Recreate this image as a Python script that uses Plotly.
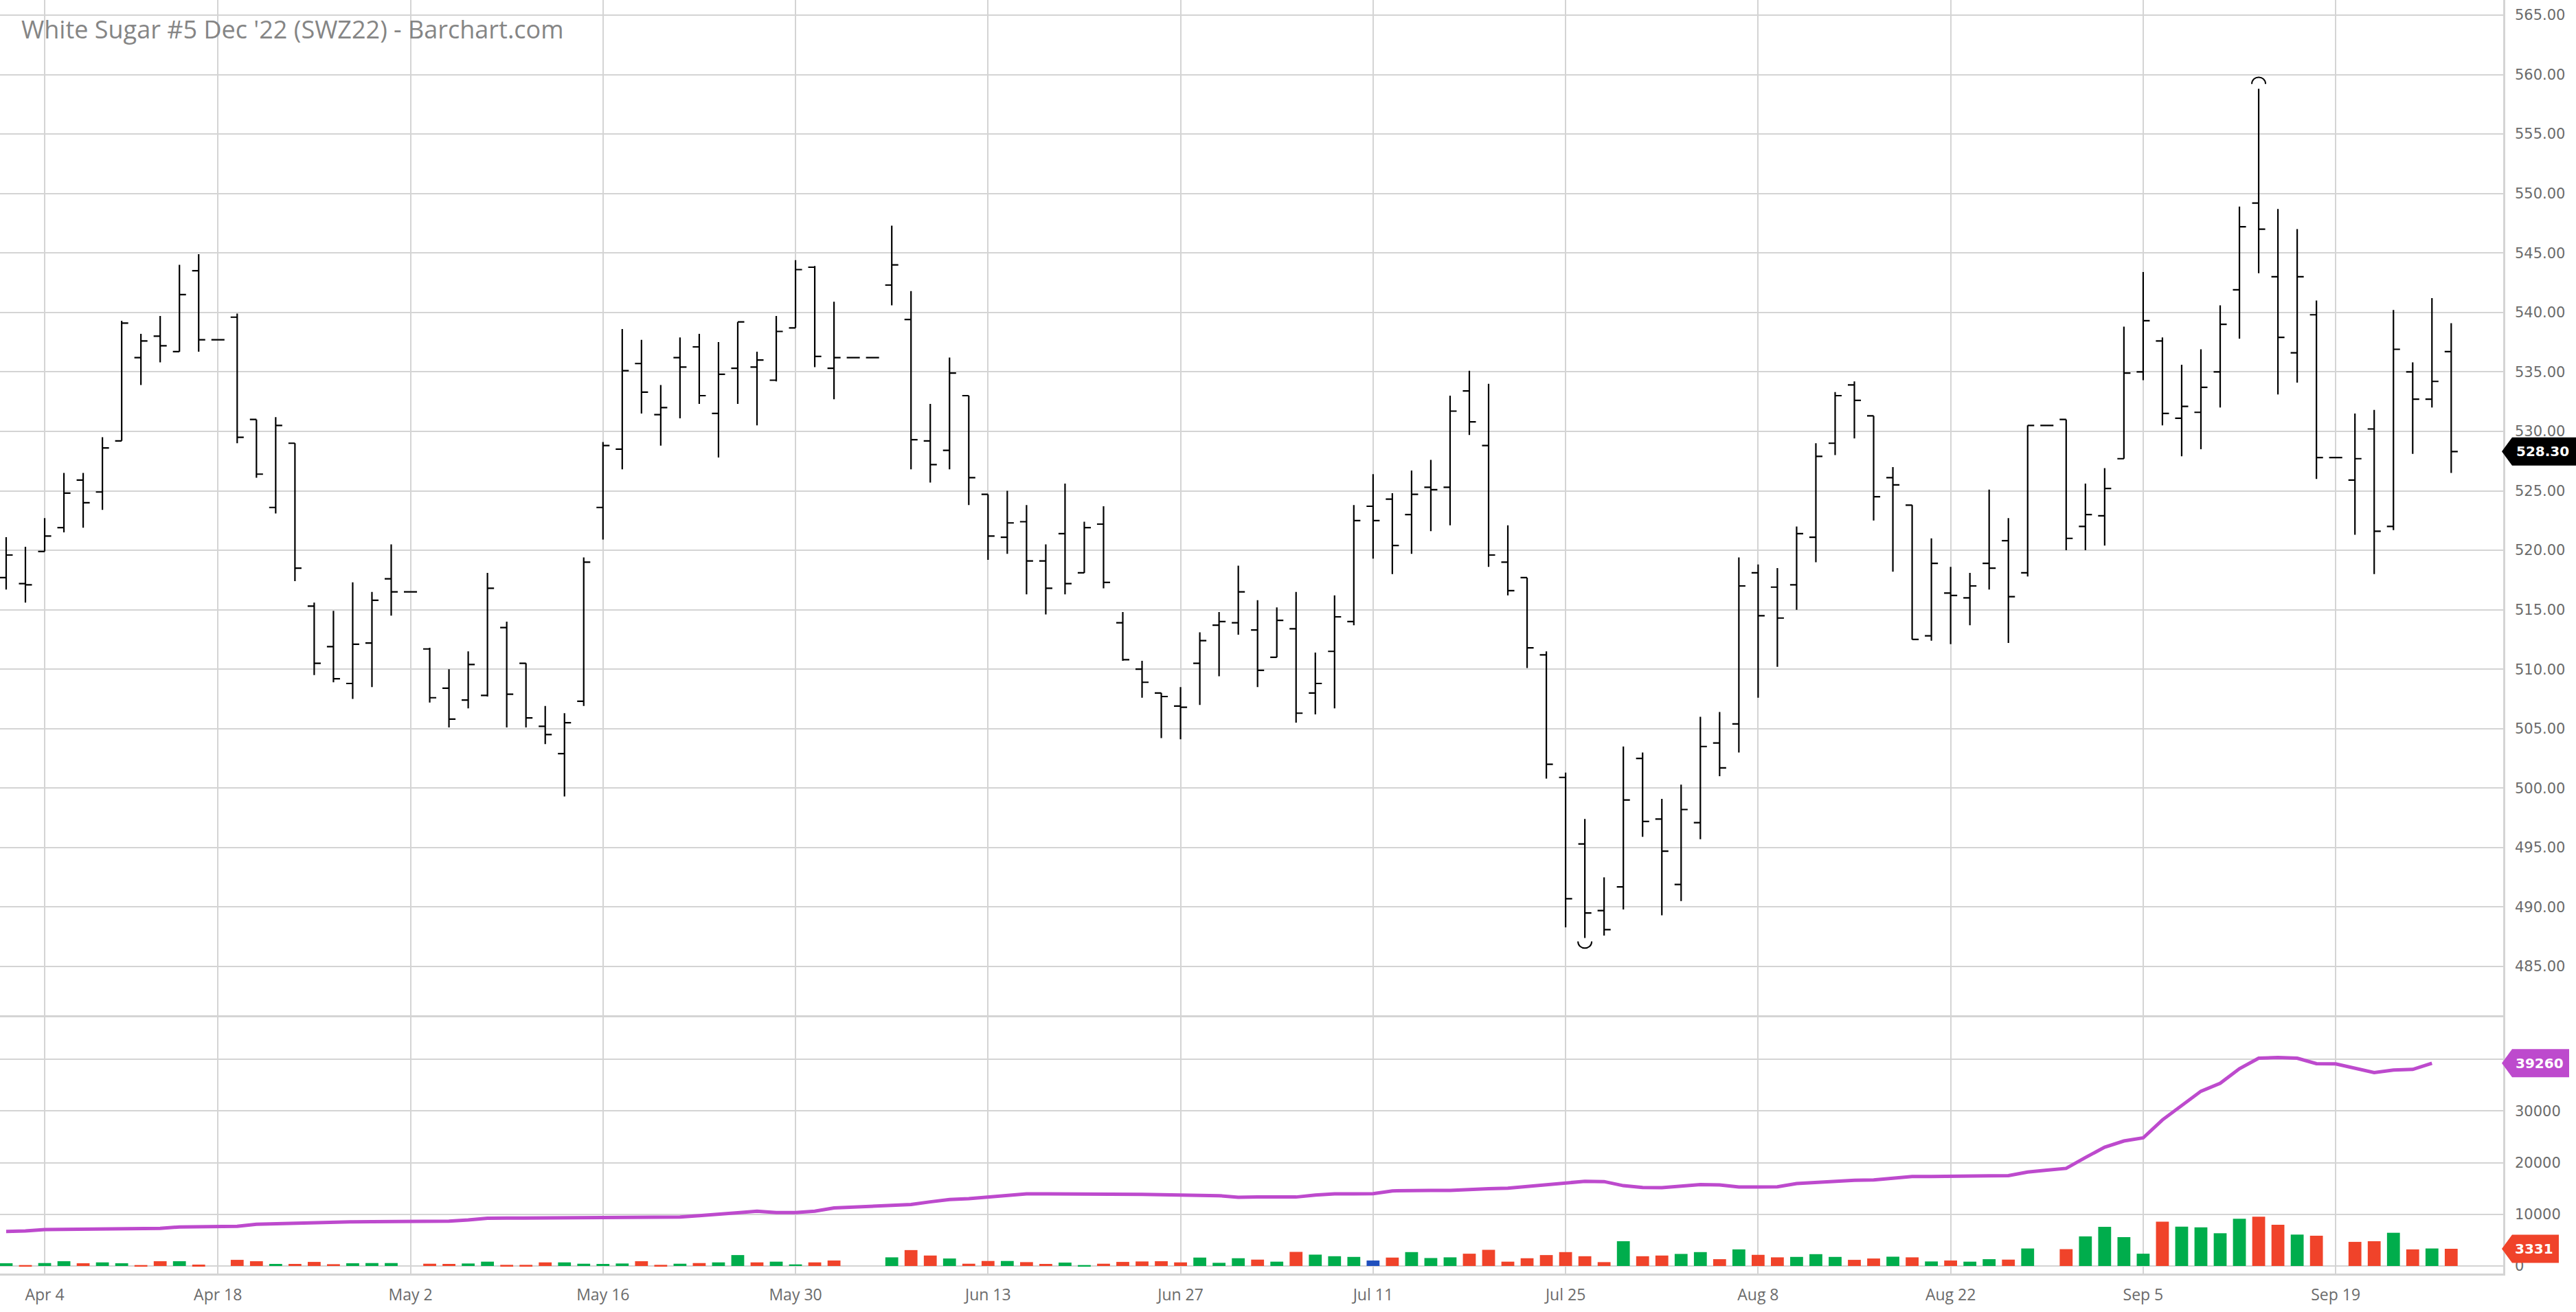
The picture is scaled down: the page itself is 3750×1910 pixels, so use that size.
import pandas as pd
import plotly.graph_objects as go

# ---------------- data ----------------
SKIPPED_DAYS = ["2022-04-15"]  # Good Friday, no session at all
DATES = [d.strftime("%Y-%m-%d") for d in pd.bdate_range("2022-03-31", "2022-09-27")]
DATES = [d for d in DATES if d not in SKIPPED_DAYS]

OPEN = [517.7, 517.2, 519.9, 521.9, 525.9, 524.9, 529.2, 536.2, 538.0, 536.7,
        543.5, 537.7, 539.6, 531.0, 523.6, 529.0, 515.3, 511.9, 508.8, 512.2,
        517.6, 516.5, 511.7, 508.4, 507.4, 507.8, 513.5, 510.5, 505.2, 502.9,
        507.3, 523.6, 528.5, 535.7, 531.4, 536.2, 537.1, 531.5, 535.3, 535.4,
        534.3, 538.7, 543.8, 535.3, 536.2, 536.2, 542.3, 539.4, 529.2, 528.4,
        533.0, 524.7, 521.1, 522.4, 519.1, 521.4, 518.1, 522.2, 513.9, 510.0,
        508.0, 506.9, 510.5, 513.7, 513.9, 513.3, 511.0, 513.4, 508.0, 511.5,
        514.0, 523.7, 524.3, 523.0, 525.3, 525.3, 533.4, 528.8, 519.0, 517.7,
        511.2, 500.9, 495.3, 489.7, 491.7, 502.5, 497.4, 491.9, 497.1, 503.8,
        505.4, 518.1, 516.9, 517.1, 521.1, 529.0, 533.9, 531.3, 526.1, 523.8,
        512.8, 516.4, 516.0, 518.9, 520.8, 518.1, 530.5, 531.0, 522.0, 522.9,
        527.7, 535.0, 537.6, 531.1, 531.6, 535.0, 541.9, 549.2, 543.0, 536.6,
        539.8, 527.8, 525.9, 530.2, 522.0, 535.0, 532.7, 536.7]

HIGH = [521.1, 520.3, 522.7, 526.5, 526.5, 529.5, 539.3, 538.2, 539.7, 544.0,
        544.9, 537.7, 539.9, 531.0, 531.2, 529.0, 515.6, 514.9, 517.3, 516.5,
        520.5, 516.5, 511.8, 510.0, 511.5, 518.1, 514.0, 510.5, 506.9, 506.3,
        519.4, 529.1, 538.6, 537.7, 533.9, 537.9, 538.2, 537.5, 539.2, 536.7,
        539.7, 544.4, 543.9, 540.9, 536.2, 536.2, 547.3, 541.8, 532.3, 536.2,
        533.0, 524.7, 525.0, 523.8, 520.5, 525.6, 522.4, 523.7, 514.8, 510.7,
        508.0, 508.5, 513.1, 514.8, 518.7, 515.8, 515.2, 516.5, 511.4, 516.2,
        523.8, 526.4, 524.8, 526.7, 527.6, 533.0, 535.1, 534.0, 522.1, 517.7,
        511.5, 501.3, 497.4, 492.5, 503.5, 503.0, 499.1, 500.3, 506.0, 506.4,
        519.4, 518.8, 518.5, 522.0, 529.0, 533.3, 534.2, 531.3, 527.0, 523.8,
        521.0, 518.6, 518.1, 525.1, 522.7, 530.5, 530.5, 531.0, 525.6, 526.9,
        538.8, 543.4, 537.9, 535.6, 536.9, 540.6, 548.9, 558.8, 548.7, 547.0,
        541.0, 527.8, 531.5, 531.8, 540.2, 535.8, 541.2, 539.1]

LOW = [516.7, 515.6, 519.9, 521.5, 521.9, 523.4, 529.2, 533.9, 535.8, 536.7,
       536.7, 537.7, 529.0, 526.1, 523.1, 517.4, 509.5, 508.9, 507.5, 508.5,
       514.5, 516.5, 507.2, 505.1, 506.7, 507.7, 505.1, 505.1, 503.7, 499.3,
       506.9, 520.9, 526.8, 531.5, 528.8, 531.1, 532.3, 527.8, 532.3, 530.5,
       534.2, 538.7, 535.4, 532.7, 536.2, 536.2, 540.6, 526.8, 525.7, 526.8,
       523.8, 519.2, 519.7, 516.3, 514.6, 516.3, 518.1, 516.8, 510.7, 507.6,
       504.2, 504.1, 507.0, 509.4, 512.9, 508.5, 511.0, 505.5, 506.2, 506.7,
       513.7, 519.3, 518.0, 519.7, 521.6, 522.1, 529.7, 518.6, 516.2, 510.1,
       500.8, 488.3, 487.4, 487.6, 489.8, 495.9, 489.3, 490.5, 495.7, 501.0,
       503.0, 507.6, 510.2, 515.0, 519.0, 528.0, 529.4, 522.5, 518.2, 512.5,
       512.4, 512.1, 513.7, 516.7, 512.2, 517.8, 530.5, 520.0, 520.0, 520.4,
       527.7, 534.3, 530.5, 527.9, 528.5, 532.0, 537.8, 543.3, 533.1, 534.1,
       526.0, 527.8, 521.3, 518.0, 521.7, 528.1, 532.0, 526.5]

CLOSE = [519.6, 517.1, 521.2, 524.8, 524.0, 528.6, 539.1, 537.6, 537.2, 541.5,
         537.7, 537.7, 529.5, 526.4, 530.5, 518.5, 510.5, 509.2, 512.1, 515.8,
         516.5, 516.5, 507.6, 505.8, 510.4, 516.8, 507.9, 505.9, 504.5, 505.5,
         519.0, 528.8, 535.1, 533.3, 532.0, 535.4, 533.0, 534.8, 539.2, 536.0,
         538.4, 543.6, 536.3, 536.2, 536.2, 536.2, 544.0, 529.3, 527.2, 534.9,
         526.1, 521.2, 522.3, 519.1, 516.8, 517.2, 521.9, 517.3, 510.8, 508.9,
         507.7, 506.8, 512.4, 514.0, 516.5, 509.9, 514.1, 506.3, 508.8, 514.4,
         522.5, 522.5, 520.4, 524.7, 525.1, 531.7, 530.8, 519.6, 516.6, 511.8,
         502.0, 490.7, 489.5, 488.1, 499.0, 497.2, 494.7, 498.2, 503.5, 501.7,
         517.0, 514.5, 514.3, 521.4, 527.9, 533.0, 532.6, 524.5, 525.5, 512.5,
         518.9, 516.2, 517.0, 518.5, 516.1, 530.5, 530.5, 521.0, 523.0, 525.2,
         534.9, 539.3, 531.5, 532.1, 533.7, 539.0, 547.2, 547.0, 537.9, 543.0,
         527.8, 527.8, 527.7, 521.6, 536.9, 532.7, 534.2, 528.3]

VOLUME = [530, 180, 570, 925, 530, 700, 530, 180, 925, 925,
          265, None, 1190, 925, 400, 400, 790, 350, 530, 570,
          570, None, 440, 400, 485, 840, 220, 220, 700, 700,
          440, 400, 485, 925, 220, 440, 570, 700, 2115, 700,
          840, 310, 700, 1060, None, None, 1675, 3080, 2025, 1450,
          440, 970, 970, 750, 400, 660, 180, 440, 790, 880,
          925, 700, 1630, 615, 1500, 1235, 840, 2730, 2200, 1890,
          1760, 1060, 1630, 2690, 1540, 1675, 2380, 3130, 840, 1500,
          2115, 2690, 1890, 750, 4800, 1890, 2025, 2335, 2690, 1320,
          3215, 2160, 1675, 1760, 2290, 1760, 1190, 1450, 1800, 1675,
          880, 1060, 840, 1320, 1235, 3390, None, 3260, 5730, 7580,
          5590, 2380, 8590, 7620, 7490, 6340, 9160, 9560, 7970, 6080,
          5860, None, 4670, 4800, 6430, 3215, 3390, 3331]

OPEN_INTEREST = [6700, 6780, 7050, 7100, 7140, 7180, 7220, 7250, 7270, 7560,
                 7600, 7600, 7670, 8080, 8200, 8330, 8360, 8410, 8550, 8570,
                 8590, 8590, 8620, 8680, 8900, 9250, 9270, 9300, 9270, 9250,
                 9280, 9340, 9360, 9380, 9400, 9470, 9740, 10090, 10300, 10600,
                 10350, 10350, 10600, 11230, 11410, 11560, 11720, 11900, 12420, 12860,
                 13040, 13300, 13660, 13960, 13960, 13960, 13960, 13960, 13920, 13870,
                 13790, 13790, 13650, 13610, 13300, 13350, 13350, 13350, 13740, 13960,
                 13960, 13990, 14540, 14630, 14630, 14630, 14850, 14960, 15070, 15420,
                 15730, 16030, 16390, 16340, 15550, 15200, 15150, 15460, 15770, 15680,
                 15290, 15310, 15330, 15950, 16220, 16480, 16600, 16650, 17000, 17310,
                 17310, 17310, 17380, 17440, 17490, 18190, 18550, 18900, 21000, 23000,
                 24200, 24800, 28280, 31060, 33830, 35370, 38200, 40220, 40350, 40220,
                 39160, 39120, 38330, 37440, 37930, 38060, 39260, None]

TICK_DATES = ["2022-04-04", "2022-04-18", "2022-05-02", "2022-05-16", "2022-05-30",
              "2022-06-13", "2022-06-27", "2022-07-11", "2022-07-25", "2022-08-08",
              "2022-08-22", "2022-09-05", "2022-09-19"]
TICK_LABELS = ["Apr 4", "Apr 18", "May 2", "May 16", "May 30", "Jun 13", "Jun 27",
               "Jul 11", "Jul 25", "Aug 8", "Aug 22", "Sep 5", "Sep 19"]
PRICE_TICKS = [485, 490, 495, 500, 505, 510, 515, 520, 525, 530, 535, 540,
               545, 550, 555, 560, 565]
VOLUME_TICKS = [0, 10000, 20000, 30000, 40000]
VOLUME_TICK_TEXT = ["0", "10000", "20000", "30000", ""]

TITLE = "White Sugar #5 Dec '22 (SWZ22) - Barchart.com"

n = len(DATES)
assert all(len(a) == n for a in (OPEN, HIGH, LOW, CLOSE, VOLUME, OPEN_INTEREST)), n

# ---------------- style ----------------
GREEN = "#00ad4c"
RED = "#f0432a"
BLUE = "#1f4fbd"
PURPLE = "#bd4acd"
GRID = "#d4d4d4"
AXIS_TXT = "#6b6b6b"

PRICE_RANGE = [480.9, 566.27]
VOL_RANGE = [-1460, 48140]
X_RANGE = [-0.32, 129.7]
PRICE_DOMAIN = [0.2028, 1.0]
VOL_DOMAIN = [0.0, 0.2012]

vol_colors = []
for i, c in enumerate(CLOSE):
    if i == 0:
        vol_colors.append(GREEN)
        continue
    diff = round(c - CLOSE[i - 1], 2)
    vol_colors.append(GREEN if diff > 0 else (RED if diff < 0 else BLUE))

fig = go.Figure()
fig.add_trace(go.Ohlc(
    x=DATES, open=OPEN, high=HIGH, low=LOW, close=CLOSE,
    increasing=dict(line=dict(color="black", width=2.2)),
    decreasing=dict(line=dict(color="black", width=2.2)),
    tickwidth=0.34, xaxis="x", yaxis="y", hoverinfo="skip"))
fig.add_trace(go.Bar(
    x=DATES, y=VOLUME, marker=dict(color=vol_colors, line=dict(width=0)),
    xaxis="x2", yaxis="y2", hoverinfo="skip"))
fig.add_trace(go.Scatter(
    x=DATES, y=OPEN_INTEREST, mode="lines",
    line=dict(color=PURPLE, width=5), xaxis="x2", yaxis="y2", hoverinfo="skip"))

common_x = dict(type="category", range=X_RANGE, tickvals=TICK_DATES, ticktext=TICK_LABELS,
                showgrid=True, gridcolor=GRID, gridwidth=1.5, ticks="", fixedrange=True,
                showline=True, linecolor=GRID, linewidth=2.5, zeroline=False)
common_y = dict(side="right", showgrid=True, gridcolor=GRID, gridwidth=1.5, ticks="",
                showline=True, linecolor=GRID, linewidth=2.5, zeroline=False,
                tickfont=dict(family="DejaVu Sans", size=21, color=AXIS_TXT),
                ticklabelstandoff=10, fixedrange=True)

fig.update_layout(
    width=3750, height=1910,
    margin=dict(l=0, r=106, t=0, b=56),
    paper_bgcolor="white", plot_bgcolor="white",
    showlegend=False, bargap=0.33,
    xaxis=dict(**common_x, domain=[0, 1], anchor="y", showticklabels=False,
               rangeslider=dict(visible=False)),
    xaxis2=dict(**common_x, domain=[0, 1], anchor="y2", mirror=True,
                tickfont=dict(family="Open Sans", size=23, color=AXIS_TXT),
                ticklabelstandoff=9),
    yaxis=dict(**common_y, domain=PRICE_DOMAIN, range=PRICE_RANGE, anchor="x",
               tickvals=PRICE_TICKS, ticktext=[f"{v:.2f}" for v in PRICE_TICKS]),
    yaxis2=dict(**common_y, domain=VOL_DOMAIN, range=VOL_RANGE, anchor="x2",
                tickvals=VOLUME_TICKS, ticktext=VOLUME_TICK_TEXT),
)

# title text inside the plot
fig.add_annotation(text=TITLE, xref="paper", yref="paper", x=0, y=1, xshift=29, yshift=-42,
                   xanchor="left", yanchor="middle", showarrow=False,
                   font=dict(family="Open Sans", size=36, color="#858585"))

# high / low markers (small arcs)
hi_idx = max(range(n), key=lambda i: HIGH[i])
lo_idx = min(range(n), key=lambda i: LOW[i])
fig.add_shape(type="path", xref="x", yref="y", xsizemode="pixel", ysizemode="pixel",
              xanchor=hi_idx, yanchor=HIGH[hi_idx],
              path="M -10,7 C -10,20 10,20 10,7", line=dict(color="black", width=2),
              fillcolor="rgba(0,0,0,0)")
fig.add_shape(type="path", xref="x", yref="y", xsizemode="pixel", ysizemode="pixel",
              xanchor=lo_idx, yanchor=LOW[lo_idx],
              path="M -10,-5 C -10,-18 10,-18 10,-5", line=dict(color="black", width=2),
              fillcolor="rgba(0,0,0,0)")


def last_valid(values):
    return [v for v in values if v is not None][-1]


def add_tag(value, yref_axis, rng, color, right_px, text_center_px, label):
    frac = (value - rng[0]) / (rng[1] - rng[0])
    fig.add_shape(type="path", xref="paper", yref=f"{yref_axis} domain",
                  xsizemode="pixel", ysizemode="pixel", xanchor=1, yanchor=frac,
                  path=f"M -2,0 L 13,20.5 L {right_px},20.5 L {right_px},-20.5 L 13,-20.5 Z",
                  fillcolor=color, line=dict(width=0), layer="above")
    fig.add_annotation(text=f"<b>{label}</b>", xref="paper", yref=yref_axis, x=1, y=value,
                       xshift=text_center_px, xanchor="center", yanchor="middle",
                       showarrow=False,
                       font=dict(family="DejaVu Sans", size=20, color="white"))


last_close = CLOSE[-1]
last_oi = last_valid(OPEN_INTEREST)
last_vol = last_valid(VOLUME)
add_tag(last_close, "y", PRICE_RANGE, "black", 110, 57, f"{last_close:.2f}")
add_tag(last_oi, "y2", VOL_RANGE, PURPLE, 96, 53, f"{last_oi}")
add_tag(last_vol, "y2", VOL_RANGE, RED, 81, 45, f"{last_vol}")

fig.write_html("out.html", config={"displayModeBar": False},
               post_script="document.body.style.margin='0px';document.body.style.overflow='hidden';")
